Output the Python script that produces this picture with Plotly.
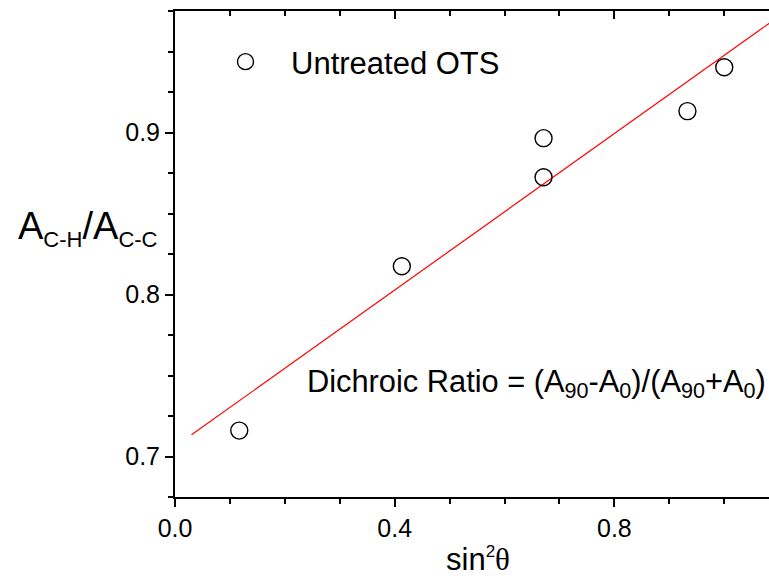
import numpy as np
import plotly.graph_objects as go

# sin^2(theta) of the polarizer angle and measured absorbance ratio
sin2_theta = [0.117, 0.413, 0.671, 0.671, 0.933, 1.0]
ratio_ch_cc = [0.716, 0.8174, 0.8965, 0.8724, 0.9132, 0.9403]
series_name = "Untreated OTS"

# linear fit and the span over which it is drawn
fit_span = [0.03, 1.1]
slope, intercept = np.polyfit(sin2_theta, ratio_ch_cc, 1)
fit_x = np.array(fit_span)
fit_y = slope * fit_x + intercept

x_range = [0.0, 1.0815]
y_range = [0.675, 0.975]

FONT = "Liberation Sans, Arial, sans-serif"

fig = go.Figure()
fig.add_trace(go.Scatter(
    x=fit_x, y=fit_y, mode="lines",
    line=dict(color="#ff0000", width=1.2),
    showlegend=False, hoverinfo="skip",
))
fig.add_trace(go.Scatter(
    x=sin2_theta, y=ratio_ch_cc, mode="markers", name=series_name,
    marker=dict(symbol="circle-open", size=17, color="black",
                line=dict(color="black", width=1.4)),
))

axis_common = dict(
    showline=True, linecolor="black", linewidth=2,
    showgrid=False, zeroline=False,
    tickcolor="black", tickwidth=2,
)

fig.update_layout(
    width=769, height=576,
    margin=dict(l=175, r=0, t=11, b=79),
    paper_bgcolor="white", plot_bgcolor="white",
    font=dict(family=FONT, color="black"),
    xaxis=dict(
        range=x_range, tick0=0, dtick=0.4, ticks="outside", ticklen=8,
        tickformat=".1f", tickfont=dict(size=25),
        minor=dict(dtick=0.1, tick0=0, ticks="outside", ticklen=5,
                   tickcolor="black", tickwidth=2),
        **axis_common,
    ),
    xaxis2=dict(
        range=x_range, overlaying="x", side="top", anchor="y",
        tick0=0, dtick=0.4, ticks="inside", ticklen=8,
        showticklabels=False,
        minor=dict(dtick=0.1, tick0=0, ticks="inside", ticklen=5,
                   tickcolor="black", tickwidth=2),
        **axis_common,
    ),
    yaxis=dict(
        range=y_range, tick0=0.7, dtick=0.1, ticks="outside", ticklen=8,
        tickformat=".1f", tickfont=dict(size=25),
        minor=dict(dtick=0.025, tick0=0.7, ticks="outside", ticklen=5,
                   tickcolor="black", tickwidth=2),
        **axis_common,
    ),
    legend=dict(
        x=(200 - 175) / 594, y=(497 - 35) / 486,
        xanchor="left", yanchor="top",
        bgcolor="rgba(0,0,0,0)", borderwidth=0,
        font=dict(size=31, family=FONT),
        itemwidth=81,
    ),
    showlegend=True,
)

# invisible trace so the top axis is laid out
fig.add_trace(go.Scatter(x=[], y=[], xaxis="x2", yaxis="y", showlegend=False))

fig.add_annotation(
    text="A<sub><span style='font-size:22px'>C-H</span></sub>/A<sub><span style='font-size:22px'>C-C</span></sub>",
    xref="paper", yref="paper", x=(16 - 175) / 594, y=(497 - 228) / 486,
    xanchor="left", yanchor="middle", showarrow=False,
    font=dict(size=38, family=FONT),
)
fig.add_annotation(
    text="sin<sup><span style='font-size:17px'>2</span></sup><span style='font-family:Liberation Serif'>θ</span>",
    xref="paper", yref="paper", x=(478 - 175) / 594, y=(497 - 559) / 486,
    xanchor="center", yanchor="middle", showarrow=False,
    font=dict(size=31, family=FONT),
)
fig.add_annotation(
    text="Dichroic Ratio = (A<sub>90</sub>-A<sub>0</sub>)/(A<sub>90</sub>+A<sub>0</sub>)",
    xref="paper", yref="paper", x=(305 - 175) / 594, y=(497 - 383) / 486,
    xanchor="left", yanchor="middle", showarrow=False,
    font=dict(size=30.8, family=FONT),
)

fig.write_html("out.html")
